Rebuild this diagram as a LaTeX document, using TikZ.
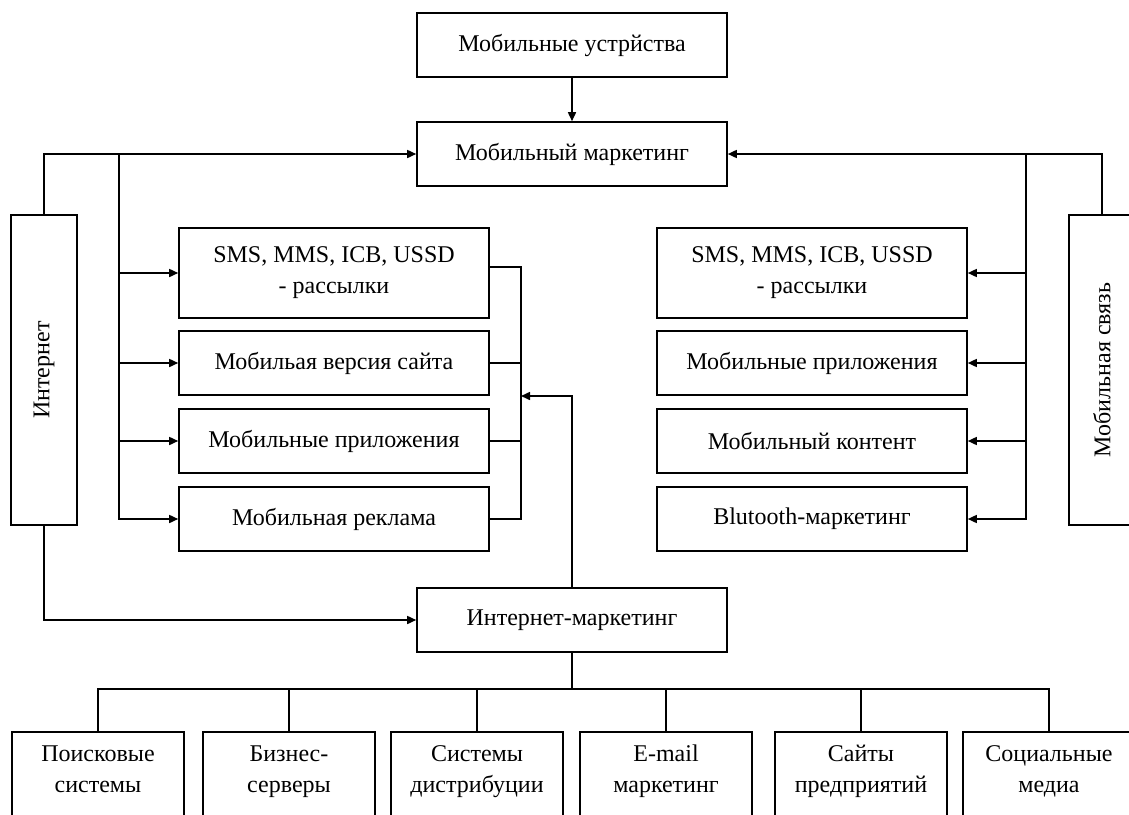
\documentclass[tikz,border=0pt]{standalone}
\usepackage{fontspec}
\setmainfont{Liberation Serif}
\usetikzlibrary{arrows.meta}
\newcommand{\ls}{\rule[-7pt]{0pt}{24pt}}
\begin{document}
\begin{tikzpicture}[x=1pt,y=-1pt,
  every node/.style={font=\fontsize{24}{31}\selectfont},
  box/.style={draw,line width=1.6pt,inner sep=0pt,align=center,minimum width=310pt,minimum height=64pt},
  vbox/.style={draw,line width=1.6pt,inner sep=0pt,minimum width=66pt,minimum height=310pt},
  bbox/.style={inner sep=0pt,align=center,minimum width=172pt,minimum height=80pt},
  ln/.style={line width=1.6pt},
  arr/.style={line width=1.6pt,-{Triangle[length=9pt,width=8pt]}}]
\useasboundingbox (0,0) rectangle (1129,814);
\clip (0,0) rectangle (1129,814);
% top
\node[box] (dev) at (572,45) {Мобильные устрйства};
\node[box] (mm) at (572,154) {Мобильный маркетинг};
\node[box] (im) at (572,620) {Интернет-маркетинг};
% side boxes
\node[vbox,label={[rotate=90]center:Интернет}] (inet) at (44,370) {};
\node[vbox,label={[rotate=90]center:Мобильная связь}] (msv) at (1102,370) {};
% left boxes
\node[box,minimum height=90pt] (L1) at (334,273) {SMS, MMS, ICB, USSD\ls\\- рассылки\ls};
\node[box] (L2) at (334,363) {Мобильая версия сайта};
\node[box] (L3) at (334,441) {Мобильные приложения};
\node[box] (L4) at (334,519) {Мобильная реклама};
% right boxes
\node[box,minimum height=90pt] (R1) at (812,273) {SMS, MMS, ICB, USSD\ls\\- рассылки\ls};
\node[box] (R2) at (812,363) {Мобильные приложения};
\node[box] (R3) at (812,441) {Мобильный контент};
\node[box] (R4) at (812,519) {Blutooth-маркетинг};
% bottom boxes
\node[bbox] (B1) at (98,772) {Поисковые\ls\\системы\ls};
\node[bbox] (B2) at (289,772) {Бизнес-\ls\\серверы\ls};
\node[bbox] (B3) at (477,772) {Системы\ls\\дистрибуции\ls};
\node[bbox] (B4) at (666,772) {E-mail\ls\\маркетинг\ls};
\node[bbox] (B5) at (861,772) {Сайты\ls\\предприятий\ls};
\node[bbox] (B6) at (1049,772) {Социальные\ls\\медиа\ls};
\foreach \b in {B1,B2,B3,B4,B5,B6}{
  \draw[ln] ([yshift=-30pt]\b.south west) -- (\b.north west) -- (\b.north east) -- ([yshift=-30pt]\b.south east);
}
% coordinates
\coordinate (lj) at (119,154);
\coordinate (rj) at (1026,154);
\coordinate (lb) at (521,267);
\coordinate (lbm) at (521,396);
\coordinate (bus) at (572,689);
% connectors
\draw[arr] (dev) -- (mm);
\draw[arr] (inet.north) |- (mm.west);
\draw[arr] (msv.north) |- (mm.east);
\draw[arr] (lj) |- (L4.west);
\draw[arr] (lj |- L1.west) -- (L1.west);
\draw[arr] (lj |- L2.west) -- (L2.west);
\draw[arr] (lj |- L3.west) -- (L3.west);
\draw[arr] (rj) |- (R4.east);
\draw[arr] (rj |- R1.east) -- (R1.east);
\draw[arr] (rj |- R2.east) -- (R2.east);
\draw[arr] (rj |- R3.east) -- (R3.east);
\draw[ln] (L1.east |- lb) -- (lb) |- (L4.east);
\draw[ln] (L2.east) -- (lb |- L2.east);
\draw[ln] (L3.east) -- (lb |- L3.east);
\draw[arr] (im.north) |- (lbm);
\draw[arr] (inet.south) |- (im.west);
\draw[ln] (im.south) -- (bus);
\draw[ln] (B1.north) -- (B1.north |- bus) -- (B6.north |- bus) -- (B6.north);
\foreach \b in {B2,B3,B4,B5}{ \draw[ln] (\b.north) -- (\b.north |- bus); }
\end{tikzpicture}
\end{document}
